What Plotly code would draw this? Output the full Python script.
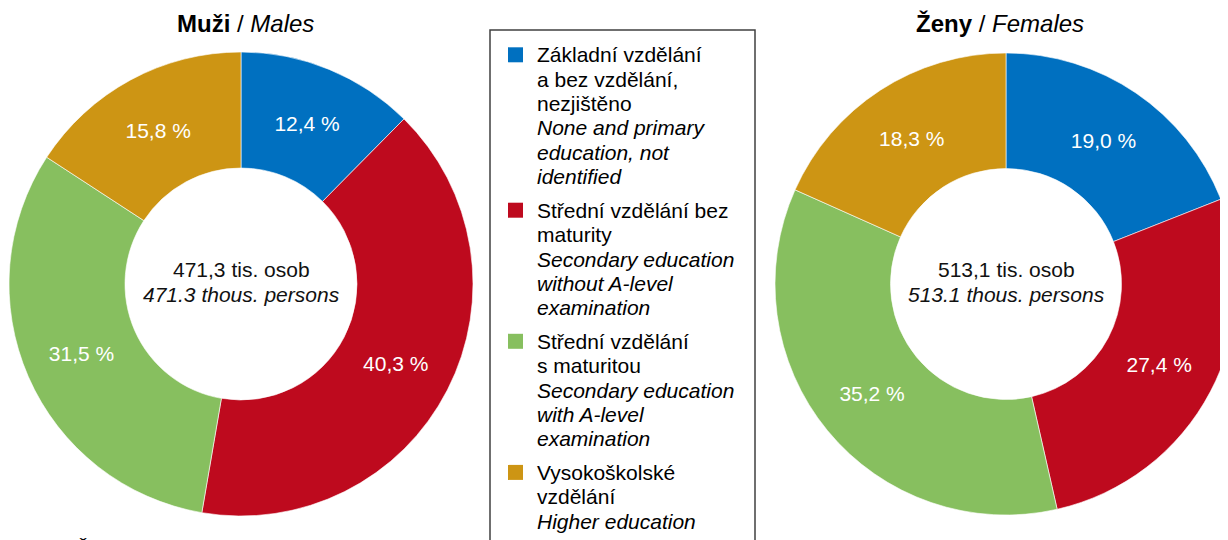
import plotly.graph_objects as go

# ---- data ----
categories = [
    "Základní vzdělání a bez vzdělání, nezjištěno",
    "Střední vzdělání bez maturity",
    "Střední vzdělání s maturitou",
    "Vysokoškolské vzdělání",
]
male_values = [12.4, 40.3, 31.5, 15.8]
female_values = [19.0, 27.4, 35.2, 18.3]
male_total = 471.3
female_total = 513.1
colors = ["#0070C0", "#BE0A1E", "#87BF5F", "#CD9514"]

legend_lines = [
    [("Základní vzdělání", False), ("a bez vzdělání,", False), ("nezjištěno", False),
     ("None and primary", True), ("education, not", True), ("identified", True)],
    [("Střední vzdělání bez", False), ("maturity", False),
     ("Secondary education", True), ("without A-level", True), ("examination", True)],
    [("Střední vzdělání", False), ("s maturitou", False),
     ("Secondary education", True), ("with A-level", True), ("examination", True)],
    [("Vysokoškolské", False), ("vzdělání", False), ("Higher education", True)],
]
footnote = "Č"

# page body has an 8px default margin; figure is positioned at (8, 8) on screen
OFF = 8
W, H = 1236, 540
FONT = "Liberation Sans, Arial, sans-serif"
FS = 21


def px(x):  # screen x -> paper x
    return (x - OFF) / W


def py(y):  # screen y -> paper y
    return (H - (y - OFF)) / H


def fmt_cz(v):
    return f"{v:.1f}".replace(".", ",")


def pct_labels(vals):
    return [fmt_cz(v) + " %" for v in vals]


fig = go.Figure()

pie_common = dict(
    hole=0.5,
    sort=False,
    direction="clockwise",
    rotation=0,
    textinfo="text",
    textposition="inside",
    insidetextorientation="horizontal",
    textfont=dict(family=FONT, size=FS, color="white"),
    marker=dict(colors=colors, line=dict(color="white", width=0.6)),
    showlegend=False,
    hoverinfo="label+value",
)

fig.add_trace(go.Pie(
    labels=categories, values=male_values, text=pct_labels(male_values),
    domain=dict(x=[px(9), px(473)], y=[py(516), py(52)]),
    name="Muži", **pie_common))
fig.add_trace(go.Pie(
    labels=categories, values=female_values, text=pct_labels(female_values),
    domain=dict(x=[px(775), px(1237)], y=[py(516), py(52)]),
    name="Ženy", **pie_common))

annotations = []
shapes = []

# titles
for cx, title in [(245, "<b>Muži</b> / <i>Males</i>"), (1000, "<b>Ženy</b> / <i>Females</i>")]:
    annotations.append(dict(x=px(cx), y=py(32.3 - 0.3465 * 24), xref="paper", yref="paper",
                            text=title, showarrow=False, xanchor="center", yanchor="middle",
                            font=dict(family=FONT, size=24, color="black")))

# centre texts
for cx, tot in [(241, male_total), (1006, female_total)]:
    annotations.append(dict(x=px(cx), y=py(276.7 - 7.3), xref="paper", yref="paper",
                            text=f"{fmt_cz(tot)} tis. osob", showarrow=False,
                            xanchor="center", yanchor="middle",
                            font=dict(family=FONT, size=FS, color="#111111")))
    annotations.append(dict(x=px(cx), y=py(301.7 - 7.3), xref="paper", yref="paper",
                            text=f"<i>{tot:.1f} thous. persons</i>", showarrow=False,
                            xanchor="center", yanchor="middle",
                            font=dict(family=FONT, size=FS, color="#111111")))

# legend box
shapes.append(dict(type="rect", xref="paper", yref="paper",
                   x0=px(490), x1=px(755), y0=py(570), y1=py(30),
                   line=dict(color="#404040", width=1.5), fillcolor="rgba(0,0,0,0)"))

baseline = 62.3
line_gap = 24.3
item_gap = 9.6
for i, lines in enumerate(legend_lines):
    shapes.append(dict(type="rect", xref="paper", yref="paper",
                       x0=px(508), x1=px(523), y0=py(baseline), y1=py(baseline - 15),
                       line=dict(width=0), fillcolor=colors[i]))
    for txt, ital in lines:
        annotations.append(dict(x=px(535), y=py(baseline - 7.3), xref="paper", yref="paper",
                                text=f"<i>{txt}</i>" if ital else txt, showarrow=False,
                                xanchor="left", yanchor="middle",
                                font=dict(family=FONT, size=FS, color="black")))
        baseline += line_gap
    baseline += item_gap

# footnote (cut off at the bottom edge in the original)
annotations.append(dict(x=px(73), y=py(556 - 7.3), xref="paper", yref="paper",
                        text=footnote, showarrow=False, xanchor="left", yanchor="middle",
                        font=dict(family=FONT, size=FS, color="black")))

fig.update_layout(
    width=W, height=H,
    margin=dict(l=0, r=0, t=0, b=0),
    paper_bgcolor="white", plot_bgcolor="white",
    annotations=annotations, shapes=shapes,
    font=dict(family=FONT),
)

fig.write_html("out.html")
